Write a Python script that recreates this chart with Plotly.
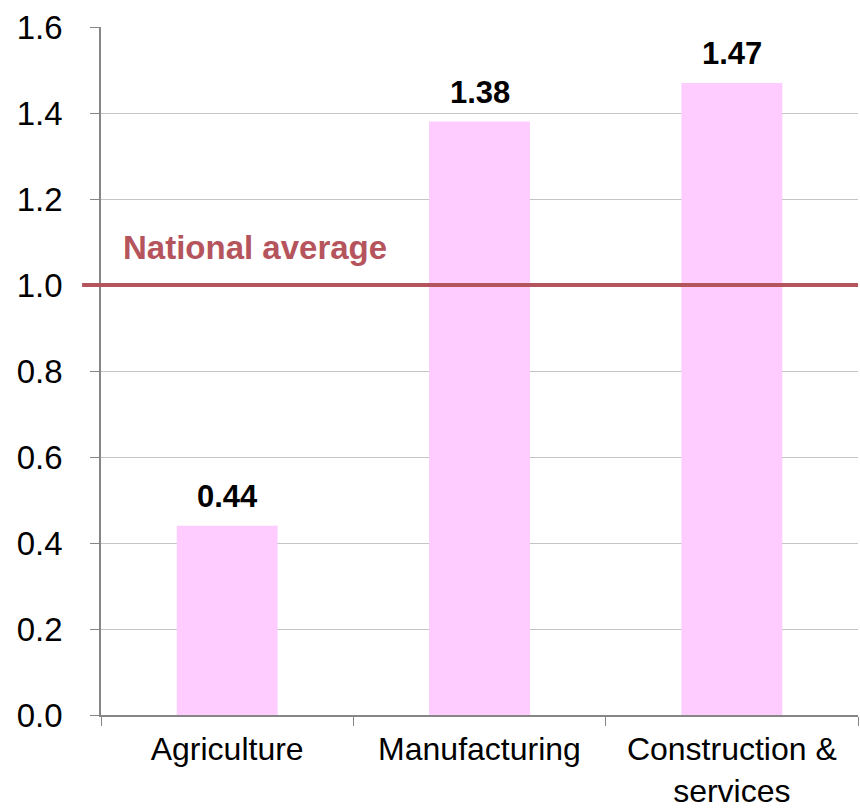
import plotly.graph_objects as go

categories = ["Agriculture", "Manufacturing", "Construction &<br>services"]
values = [0.44, 1.38, 1.47]
national_average = 1.0
y_ticks = [0.0, 0.2, 0.4, 0.6, 0.8, 1.0, 1.2, 1.4, 1.6]
y_tick_labels = ["0.0", "0.2", "0.4", "0.6", "0.8", "1.0", "1.2", "1.4", "1.6"]

FONT = "Liberation Sans, Arial, sans-serif"

fig = go.Figure()
fig.add_trace(go.Bar(
    x=categories, y=values,
    marker=dict(color="#FFCCFF", line=dict(width=0)),
    cliponaxis=False,
))

for c, v in zip(categories, values):
    fig.add_annotation(x=c, y=v, xref="x", yref="y",
                       text=f"<b>{v:.2f}</b>", showarrow=False,
                       yanchor="bottom", yshift=10,
                       font=dict(family=FONT, size=31, color="#000000"))

fig.add_shape(type="line", xref="paper", yref="y",
              x0=-0.025, x1=1.0, y0=national_average, y1=national_average,
              line=dict(color="#B5545C", width=4), layer="above")
fig.add_annotation(xref="paper", yref="y", x=0.027, y=national_average,
                   xanchor="left", yanchor="middle", yshift=38,
                   text="<b>National average</b>", showarrow=False,
                   font=dict(family=FONT, size=33, color="#B5545C"))

fig.update_layout(
    width=860, height=811,
    margin=dict(l=101, r=2, t=27, b=96),
    paper_bgcolor="white", plot_bgcolor="white",
    showlegend=False,
    bargap=0.6,
    font=dict(family=FONT, size=33, color="#000000"),
)
fig.update_xaxes(
    automargin=False,
    showline=True, linecolor="#868686", linewidth=1.5,
    ticks="outside", tickson="boundaries", ticklen=9, tickcolor="#868686",
    ticklabelstandoff=5,
    tickfont=dict(family=FONT, size=32, color="#000000"),
    showgrid=False,
)
fig.update_yaxes(
    automargin=False,
    range=[0, 1.6], tickvals=y_ticks, ticktext=y_tick_labels,
    showline=True, linecolor="#868686", linewidth=1.5,
    ticks="outside", ticklen=9, tickcolor="#868686",
    ticklabelstandoff=21,
    tickfont=dict(family=FONT, size=33, color="#000000"),
    showgrid=True, gridcolor="#C4C4C4", gridwidth=1.2,
    zeroline=False,
)

fig.write_html("out.html")
